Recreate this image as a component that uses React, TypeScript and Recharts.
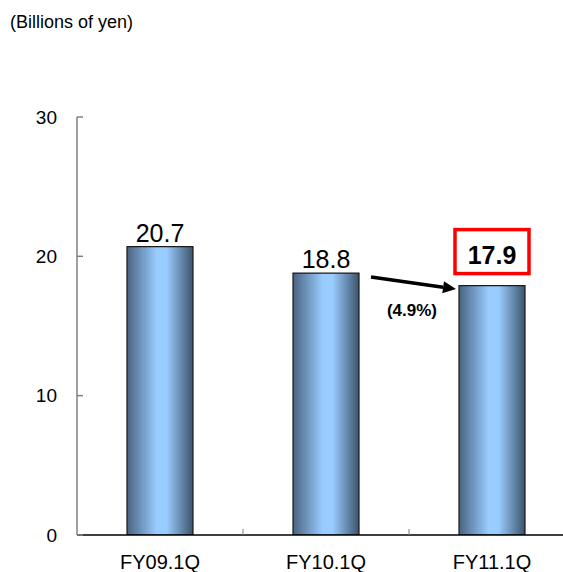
import { BarChart, Bar, XAxis, YAxis, LabelList } from "recharts";

const categories = ["FY09.1Q", "FY10.1Q", "FY11.1Q"];
const sales = [20.7, 18.8, 17.9];
const yTicks = [0, 10, 20, 30];
const changeText = "(4.9%)";
const unitText = "(Billions of yen)";

const data = categories.map((name, i) => ({ name, value: sales[i] }));

const FONT = "'Liberation Sans', Arial, sans-serif";

function XTick(props: any) {
  const { x, y, payload, index } = props;
  const axisY = y - 20;
  const edge = x + (payload.offset || 0);
  return (
    <g>
      {index < categories.length - 1 && (
        <line x1={edge} x2={edge} y1={axisY} y2={axisY - 6} stroke="#808080" strokeWidth={1} />
      )}
      <text x={x} y={y} dy="0.71em" textAnchor="middle" fontSize={20} fill="#000" fontFamily={FONT}>
        {payload.value}
      </text>
    </g>
  );
}

function ValueLabel(props: any) {
  const { x, y, width, value, index } = props;
  const cx = x + width / 2;
  if (index !== sales.length - 1) {
    return (
      <text x={cx} y={y - 5} textAnchor="middle" fontSize={25} fill="#000" fontFamily={FONT}>
        {value}
      </text>
    );
  }
  // arrow from previous bar towards this one
  const sx = x - 88;
  const sy = y - 8.5;
  const ex = x - 3;
  const ey = y + 3.5;
  const len = Math.hypot(ex - sx, ey - sy);
  const ux = (ex - sx) / len;
  const uy = (ey - sy) / len;
  const head = 13;
  const half = 6;
  const bx = ex - ux * head;
  const by = ey - uy * head;
  const pts = `${ex},${ey} ${bx - uy * half},${by + ux * half} ${bx + uy * half},${by - ux * half}`;
  return (
    <g>
      <rect x={cx - 37} y={y - 56} width={74} height={44} fill="#fff" stroke="#ff0000" strokeWidth={3.5} />
      <text x={cx} y={y - 22} textAnchor="middle" fontSize={25} fontWeight="bold" fill="#000" fontFamily={FONT}>
        {value}
      </text>
      <line x1={sx} y1={sy} x2={bx} y2={by} stroke="#000" strokeWidth={3.5} />
      <polygon points={pts} fill="#000" />
      <text x={x - 47} y={y + 30} textAnchor="middle" fontSize={17} fontWeight="bold" fill="#000" fontFamily={FONT}>
        {changeText}
      </text>
    </g>
  );
}

export default function App() {
  return (
    <div style={{ position: "absolute", left: 0, top: 0, width: 563, height: 572, overflow: "hidden", background: "#fff" }}>
      <div style={{ position: "absolute", left: 10, top: 12, fontSize: 18, fontFamily: FONT, color: "#000", lineHeight: "20px" }}>
        {unitText}
      </div>
      <BarChart
        width={580}
        height={572}
        data={data}
        margin={{ top: 117, right: 5, left: 0, bottom: 0 }}
        barSize={66}
        style={{ position: "absolute", left: 0, top: 0 }}
      >
        <defs>
          <linearGradient id="barGrad" x1="0" y1="0" x2="1" y2="0">
            <stop offset="0%" stopColor="#4a6380" />
            <stop offset="45%" stopColor="#99ccff" />
            <stop offset="60%" stopColor="#99ccff" />
            <stop offset="100%" stopColor="#3d536b" />
          </linearGradient>
        </defs>
        <XAxis
          dataKey="name"
          axisLine={{ stroke: "#000", strokeWidth: 1.5 }}
          tickLine={false}
          tickSize={0}
          tickMargin={20}
          height={37}
          tick={<XTick />}
          interval={0}
        />
        <YAxis
          domain={[0, 30]}
          ticks={yTicks}
          width={77}
          axisLine={{ stroke: "#808080", strokeWidth: 1.5 }}
          tickLine={{ stroke: "#808080", strokeWidth: 1.5 }}
          tickSize={-6}
          tickMargin={26}
          tick={{ fontSize: 19, fill: "#000", fontFamily: FONT }}
          allowDataOverflow
        />
        <Bar dataKey="value" fill="url(#barGrad)" stroke="#1a1a1a" strokeWidth={1.2} isAnimationActive={false}>
          <LabelList dataKey="value" content={<ValueLabel />} />
        </Bar>
      </BarChart>
    </div>
  );
}
